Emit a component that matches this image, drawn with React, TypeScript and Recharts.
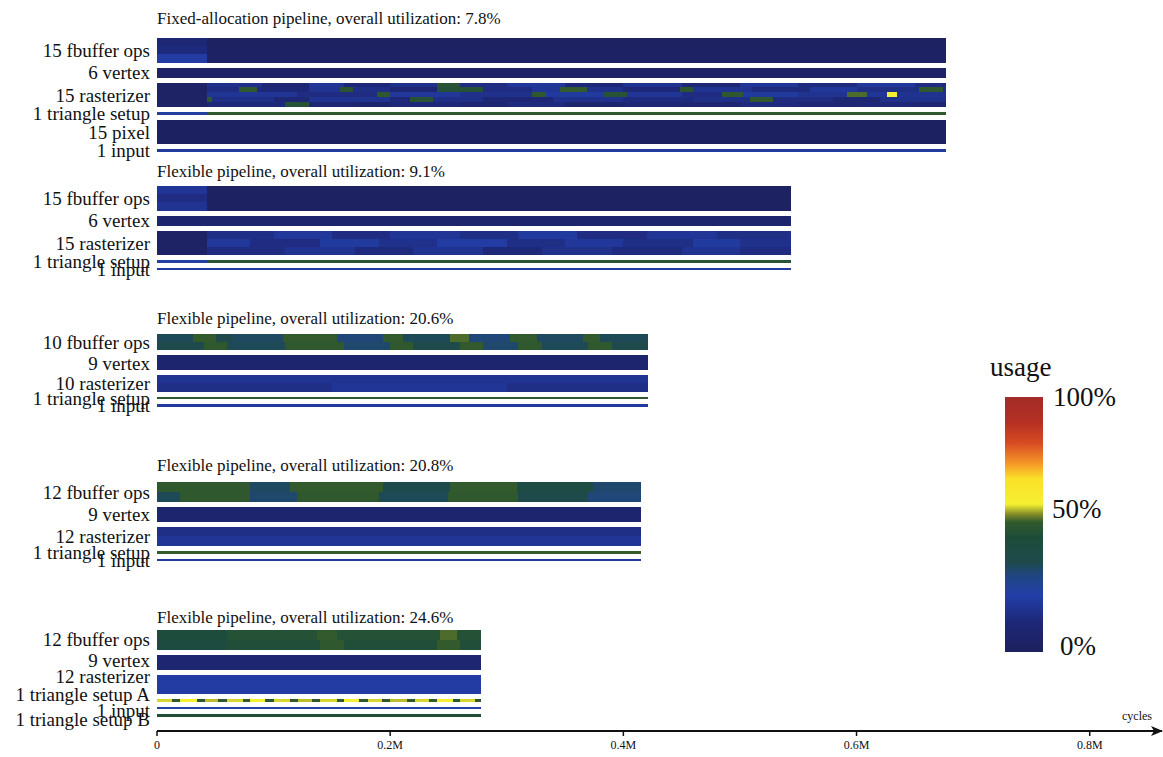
import React from 'react';
import {
  ComposedChart,
  Scatter,
  XAxis,
  YAxis,
  ReferenceArea,
  ReferenceLine,
  ReferenceDot,
} from 'recharts';

// [end of run in M cycles, usage %]
type Run = [number, number];

interface UnitRow {
  label: string;
  units: number;
  usage: Run[][]; // one list of runs per horizontal band of the row
}

const xTicks = [0, 0.2, 0.4, 0.6, 0.8];

// usage colour scale (percent -> colour)
const usageStops = [0, 12, 22, 30, 35, 45, 51, 54, 58, 68, 74, 82, 90, 100];
const usageColors = [
  '#1c205c', '#1e2878', '#223ea8', '#204682', '#1e4a4b', '#1e4c3a', '#325a2d',
  '#828c28', '#f5f032', '#fae128', '#f59628', '#d74b23', '#b43023', '#a22c28',
];

const panelTitles = [
  'Fixed-allocation pipeline, overall utilization: 7.8%',
  'Flexible pipeline, overall utilization: 9.1%',
  'Flexible pipeline, overall utilization: 20.6%',
  'Flexible pipeline, overall utilization: 20.8%',
  'Flexible pipeline, overall utilization: 24.6%',
];

const fixedAllocation: UnitRow[] = [
  {
    label: '15 fbuffer ops',
    units: 15,
    usage: [
      [[0.043, 10], [0.677, 3]],
      [[0.043, 13], [0.677, 3]],
      [[0.043, 21], [0.677, 4]],
    ],
  },
  { label: '6 vertex', units: 6, usage: [[[0.677, 4]]] },
  {
    label: '15 rasterizer',
    units: 15,
    usage: [
      [[0.043, 4], [0.09, 16], [0.13, 10], [0.16, 18], [0.2, 12], [0.24, 16], [0.26, 48], [0.3, 14], [0.35, 19], [0.4, 12], [0.45, 17], [0.5, 11], [0.55, 18], [0.6, 13], [0.65, 19], [0.677, 14]],
      [[0.043, 4], [0.07, 14], [0.086, 50], [0.13, 12], [0.157, 17], [0.168, 49], [0.2, 15], [0.24, 10], [0.28, 47], [0.322, 14], [0.346, 18], [0.369, 51], [0.4, 16], [0.449, 12], [0.46, 49], [0.51, 17], [0.56, 13], [0.6, 19], [0.654, 15], [0.674, 50], [0.677, 15]],
      [[0.043, 4], [0.12, 18], [0.189, 14], [0.2, 50], [0.26, 19], [0.322, 16], [0.334, 50], [0.383, 20], [0.403, 48], [0.45, 18], [0.485, 14], [0.503, 50], [0.55, 20], [0.592, 17], [0.609, 52], [0.626, 18], [0.635, 58], [0.677, 17]],
      [[0.043, 4], [0.047, 50], [0.1, 15], [0.13, 10], [0.2, 17], [0.217, 12], [0.237, 48], [0.28, 15], [0.34, 11], [0.4, 16], [0.46, 13], [0.509, 15], [0.528, 50], [0.58, 14], [0.62, 10], [0.677, 16]],
      [[0.043, 4], [0.11, 12], [0.13, 47], [0.17, 10], [0.2, 8], [0.26, 12], [0.3, 9], [0.35, 13], [0.4, 8], [0.45, 11], [0.5, 9], [0.55, 13], [0.6, 10], [0.65, 12], [0.677, 9]],
    ],
  },
  { label: '1 triangle setup', units: 1, usage: [[[0.043, 24], [0.677, 50]]] },
  { label: '15 pixel', units: 15, usage: [[[0.677, 2]]] },
  { label: '1 input', units: 1, usage: [[[0.677, 20]]] },
];

const flexible91: UnitRow[] = [
  {
    label: '15 fbuffer ops',
    units: 15,
    usage: [
      [[0.043, 18], [0.544, 3]],
      [[0.043, 14], [0.544, 3]],
      [[0.043, 17], [0.544, 3]],
    ],
  },
  { label: '6 vertex', units: 6, usage: [[[0.544, 7]]] },
  {
    label: '15 rasterizer',
    units: 15,
    usage: [
      [[0.043, 4], [0.1, 15], [0.15, 19], [0.2, 14], [0.26, 18], [0.31, 15], [0.36, 20], [0.42, 14], [0.48, 18], [0.544, 15]],
      [[0.043, 4], [0.08, 19], [0.14, 14], [0.19, 20], [0.24, 16], [0.3, 21], [0.35, 15], [0.4, 19], [0.46, 15], [0.5, 20], [0.544, 16]],
      [[0.043, 4], [0.11, 14], [0.17, 17], [0.22, 13], [0.28, 17], [0.33, 12], [0.39, 16], [0.45, 13], [0.5, 17], [0.544, 14]],
    ],
  },
  { label: '1 triangle setup', units: 1, usage: [[[0.043, 24], [0.544, 48]]] },
  { label: '1 input', units: 1, usage: [[[0.544, 20]]] },
];

const flexible206: UnitRow[] = [
  {
    label: '10 fbuffer ops',
    units: 10,
    usage: [
      [[0.031, 34], [0.051, 51], [0.065, 35], [0.108, 33], [0.154, 51], [0.194, 31], [0.211, 51], [0.251, 34], [0.268, 52], [0.303, 31], [0.326, 51], [0.365, 33], [0.38, 51], [0.421, 34]],
      [[0.04, 35], [0.06, 50], [0.11, 34], [0.16, 50], [0.2, 32], [0.22, 50], [0.26, 35], [0.28, 51], [0.31, 32], [0.33, 50], [0.37, 34], [0.39, 50], [0.421, 35]],
    ],
  },
  { label: '9 vertex', units: 9, usage: [[[0.421, 8]]] },
  {
    label: '10 rasterizer',
    units: 10,
    usage: [
      [[0.421, 17]],
      [[0.15, 15], [0.3, 18], [0.421, 15]],
    ],
  },
  { label: '1 triangle setup', units: 1, usage: [[[0.421, 50]]] },
  { label: '1 input', units: 1, usage: [[[0.421, 20]]] },
];

const flexible208: UnitRow[] = [
  {
    label: '12 fbuffer ops',
    units: 12,
    usage: [
      [[0.08, 50], [0.114, 33], [0.194, 51], [0.251, 35], [0.309, 51], [0.374, 40], [0.415, 32]],
      [[0.02, 34], [0.08, 50], [0.12, 32], [0.19, 50], [0.25, 34], [0.31, 50], [0.37, 36], [0.415, 31]],
    ],
  },
  { label: '9 vertex', units: 9, usage: [[[0.415, 8]]] },
  { label: '12 rasterizer', units: 12, usage: [[[0.415, 15]], [[0.415, 18]]] },
  { label: '1 triangle setup', units: 1, usage: [[[0.415, 51]]] },
  { label: '1 input', units: 1, usage: [[[0.415, 20]]] },
];

const flexible246: UnitRow[] = [
  {
    label: '12 fbuffer ops',
    units: 12,
    usage: [
      [[0.06, 44], [0.137, 47], [0.154, 51], [0.243, 47], [0.257, 52], [0.278, 47]],
      [[0.06, 42], [0.14, 46], [0.16, 50], [0.24, 46], [0.26, 51], [0.278, 46]],
    ],
  },
  { label: '9 vertex', units: 9, usage: [[[0.278, 9]]] },
  { label: '12 rasterizer', units: 12, usage: [[[0.278, 21]]] },
  {
    label: '1 triangle setup A',
    units: 1,
    usage: [[
      [0.013, 57], [0.02, 50], [0.034, 58], [0.041, 50], [0.052, 56], [0.06, 50], [0.074, 57], [0.08, 51],
      [0.093, 58], [0.1, 50], [0.114, 57], [0.121, 50], [0.133, 56], [0.14, 50], [0.154, 57], [0.16, 51],
      [0.173, 58], [0.181, 50], [0.193, 57], [0.2, 50], [0.214, 56], [0.221, 50], [0.233, 57], [0.24, 51],
      [0.254, 58], [0.26, 50], [0.273, 57], [0.278, 50],
    ]],
  },
  { label: '1 input', units: 1, usage: [[[0.278, 22]]] },
  { label: '1 triangle setup B', units: 1, usage: [[[0.278, 46]]] },
];

const FONT = '"Liberation Serif", "Times New Roman", serif';
const INK = '#111';

// vertical layout, in processor rows
const X_MAX = 0.862;
const Y_MAX = 443;
const FIRST_TOP = 23;
const PANEL_PITCH = 89.7;
const STRIP_GAP = 3;
const THIN_ROW = 1.5;
const titleLift = [8.5, 5.5, 6.1, 6.7, 4.2];
// last panel spreads its labels on a steadier rhythm than its strips
const labelShift: number[][] = [[], [], [], [], [-0.6, -1.4, -4.8, -3.8, 1.2, 2.6]];

const hexToRgb = (h: string) => [1, 3, 5].map((i) => parseInt(h.slice(i, i + 2), 16));

function usageColor(pct: number) {
  let i = 0;
  while (i < usageStops.length - 2 && pct > usageStops[i + 1]) i++;
  const t = Math.min(1, Math.max(0, (pct - usageStops[i]) / (usageStops[i + 1] - usageStops[i])));
  const a = hexToRgb(usageColors[i]);
  const b = hexToRgb(usageColors[i + 1]);
  const c = a.map((v, k) => Math.round(v + (b[k] - v) * t));
  return `rgb(${c[0]},${c[1]},${c[2]})`;
}

interface Cell { x1: number; x2: number; y1: number; y2: number; fill: string }

const panels = [fixedAllocation, flexible91, flexible206, flexible208, flexible246];
const cells: Cell[] = [];
const rowTicks: number[] = [];
const rowLabels = new Map<string, string>();
const titles: { y: number; text: string }[] = [];

panels.forEach((rows, p) => {
  let top = FIRST_TOP + p * PANEL_PITCH;
  titles.push({ y: top - titleLift[p], text: panelTitles[p] });
  rows.forEach((row, r) => {
    const h = row.units === 1 ? THIN_ROW : row.units;
    const bandH = h / row.usage.length;
    row.usage.forEach((band, b) => {
      let start = 0;
      band.forEach(([end, pct]) => {
        cells.push({
          x1: start,
          x2: end,
          y1: top + b * bandH,
          y2: top + (b + 1) * bandH,
          fill: usageColor(pct),
        });
        start = end;
      });
    });
    const mid = top + h / 2 + (labelShift[p][r] ?? 0);
    rowTicks.push(mid);
    rowLabels.set(mid.toFixed(3), row.label);
    top += h + STRIP_GAP;
  });
});

const CellRect = (props: any) => (
  <rect
    x={props.x}
    y={props.y}
    width={props.width}
    height={props.height}
    fill={props.fill}
    shapeRendering="crispEdges"
  />
);

const RowLabel = ({ x, y, payload }: any) => (
  <text x={x} y={y} dy="0.35em" textAnchor="end" fontSize={19} fontFamily={FONT} fill={INK}>
    {rowLabels.get(Number(payload.value).toFixed(3))}
  </text>
);

const TitleLabel = ({ viewBox, text }: any) => (
  <text x={viewBox.x} y={viewBox.y} fontSize={17} fontFamily={FONT} fill={INK}>
    {text}
  </text>
);

const AxisArrow = ({ cx, cy }: any) => (
  <g>
    <path d={`M${cx + 1},${cy} L${cx - 11},${cy - 5} L${cx - 8},${cy} L${cx - 11},${cy + 5} Z`} fill={INK} />
    <text x={cx - 25} y={cy - 11} textAnchor="middle" fontSize={12} fontFamily={FONT} fill={INK}>
      cycles
    </text>
  </g>
);

// the cell corners anchor both axes; the cells themselves are drawn as reference areas
const NoMark = () => null;

function UsageScale() {
  return (
    <svg
      width={1163}
      height={757}
      style={{ position: 'absolute', left: 0, top: 0, pointerEvents: 'none' }}
    >
      <defs>
        <linearGradient id="usageScale" x1="0" y1="1" x2="0" y2="0">
          {usageStops.map((s, i) => (
            <stop key={s} offset={`${s}%`} stopColor={usageColors[i]} />
          ))}
        </linearGradient>
      </defs>
      <rect x={1005} y={397} width={38} height={255} fill="url(#usageScale)" />
      <g fontFamily={FONT} fontSize={27} fill={INK}>
        <text x={990} y={376}>usage</text>
        <text x={1053} y={406}>100%</text>
        <text x={1052} y={518}>50%</text>
        <text x={1060} y={655}>0%</text>
      </g>
    </svg>
  );
}

export default function App() {
  return (
    <div style={{ position: 'relative', width: 1163, height: 757, background: '#fff' }}>
      <style>{'body { margin: 0; }'}</style>
      <ComposedChart
        width={1163}
        height={757}
        data={cells}
        margin={{ top: 0, right: 1, left: 0, bottom: 0 }}
      >
        <XAxis
          type="number"
          dataKey="x1"
          domain={[0, X_MAX]}
          ticks={xTicks}
          allowDataOverflow
          height={26}
          interval={0}
          tickFormatter={(v: number) => (v === 0 ? '0' : `${v}M`)}
          axisLine={{ stroke: INK, strokeWidth: 2 }}
          tickLine={{ stroke: INK, strokeWidth: 1.5 }}
          tickSize={5}
          tickMargin={4}
          tick={{ fontSize: 12, fontFamily: FONT, fill: INK }}
        />
        <YAxis
          type="number"
          dataKey="y1"
          domain={[0, Y_MAX]}
          reversed
          allowDataOverflow
          width={157}
          ticks={rowTicks}
          interval={0}
          axisLine={false}
          tickLine={false}
          tickSize={0}
          tickMargin={7}
          tick={<RowLabel />}
        />
        <Scatter data={cells} dataKey="y1" shape={NoMark} isAnimationActive={false} />
        {cells.map((c, i) => (
          <ReferenceArea
            key={i}
            x1={c.x1}
            x2={c.x2}
            y1={c.y1}
            y2={c.y2}
            fill={c.fill}
            fillOpacity={1}
            ifOverflow="visible"
            shape={CellRect}
          />
        ))}
        {titles.map((t) => (
          <ReferenceLine
            key={t.text + t.y}
            y={t.y}
            stroke="none"
            ifOverflow="visible"
            label={<TitleLabel text={t.text} />}
          />
        ))}
        <ReferenceDot x={X_MAX} y={Y_MAX} ifOverflow="visible" shape={AxisArrow} />
      </ComposedChart>
      <UsageScale />
    </div>
  );
}
